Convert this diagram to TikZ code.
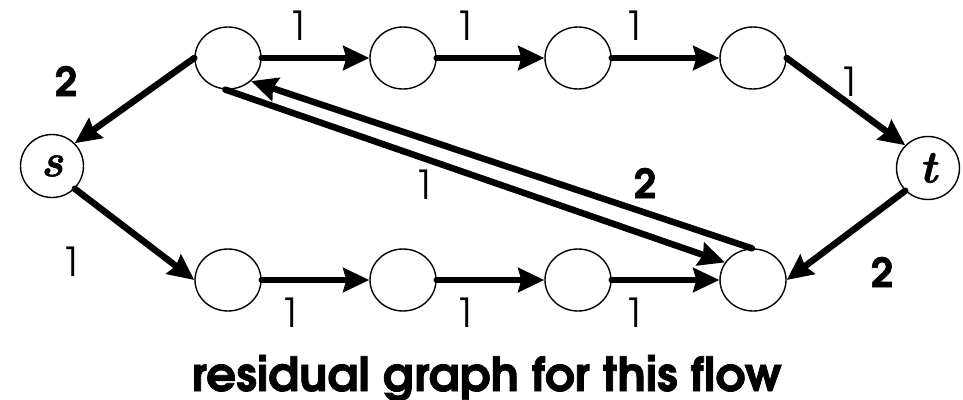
\documentclass[tikz,border=0pt]{standalone}
\usepackage{fontspec}
\setmainfont{TeX Gyre Adventor}
\newfontfamily\heavyfont[UprightFont=*-bold,FakeBold=1.6,Extension=.otf]{texgyreadventor}
\newfontfamily\mathitfont[UprightFont=*-bolditalic,FakeBold=1.2,Extension=.otf]{lmroman10}
\usetikzlibrary{shapes.geometric,arrows.meta}
\begin{document}
\begin{tikzpicture}[x=1pt,y=-1pt,
  vtx/.style={draw,line width=1.4pt,ellipse,minimum width=66pt,minimum height=62pt,inner sep=0pt},
  term/.style={draw,line width=1.4pt,circle,minimum size=63pt,inner sep=0pt,font=\fontsize{46}{46}\mathitfont},
  edge/.style={line width=6.5pt,line cap=round,-{Stealth[length=26pt,width=24pt,inset=3pt]}},
  lbl/.style={font=\fontsize{40}{40}\selectfont},
  blbl/.style={font=\fontsize{40}{40}\heavyfont}]
\useasboundingbox (0,0) rectangle (963,399);
\node[term] (s) at (52,166) {s};
\node[term] (t) at (928,168) {t};
\node[vtx] (a1) at (228,58) {};
\node[vtx] (a2) at (403,58) {};
\node[vtx] (a3) at (578,58) {};
\node[vtx] (a4) at (753,58) {};
\node[vtx] (b1) at (228,280) {};
\node[vtx] (b2) at (403,280) {};
\node[vtx] (b3) at (578,280) {};
\node[vtx] (b4) at (753,280) {};
\draw[edge] (a1.east) -- (a2.west);
\draw[edge] (a2.east) -- (a3.west);
\draw[edge] (a3.east) -- (a4.west);
\draw[edge] (b1.east) -- (b2.west);
\draw[edge] (b2.east) -- (b3.west);
\draw[edge] (b3.east) -- (b4.west);
\draw[edge] (a1.west) -- (s.north east);
\draw[edge] (s.south east) -- (b1.west);
\draw[edge] (a4.east) -- (t.north west);
\draw[edge] (t.south west) -- (b4.east);
\draw[edge] (a1.-95) -- (b4.148);
\draw[edge] (b4.92) -- (a1.-45);
\node[lbl] (l1) at (299,26) {1};
\node[lbl] (l2) at (466,26) {1};
\node[lbl] (l3) at (635,26) {1};
\node[lbl] (l4) at (850,82) {1};
\node[blbl] (l5) at (66,81) {2};
\node[lbl] (l6) at (72,262) {1};
\node[lbl] (l7) at (425,185) {1};
\node[blbl] (l8) at (645,183) {2};
\node[blbl] (l9) at (882,272) {2};
\node[lbl] (l10) at (291,313) {1};
\node[lbl] (l11) at (466,313) {1};
\node[lbl] (l12) at (635,313) {1};
\node[font=\fontsize{47}{47}\heavyfont,anchor=base,inner sep=0pt] (cap) at (487,391) {residual graph for this flow};
\end{tikzpicture}
\end{document}
